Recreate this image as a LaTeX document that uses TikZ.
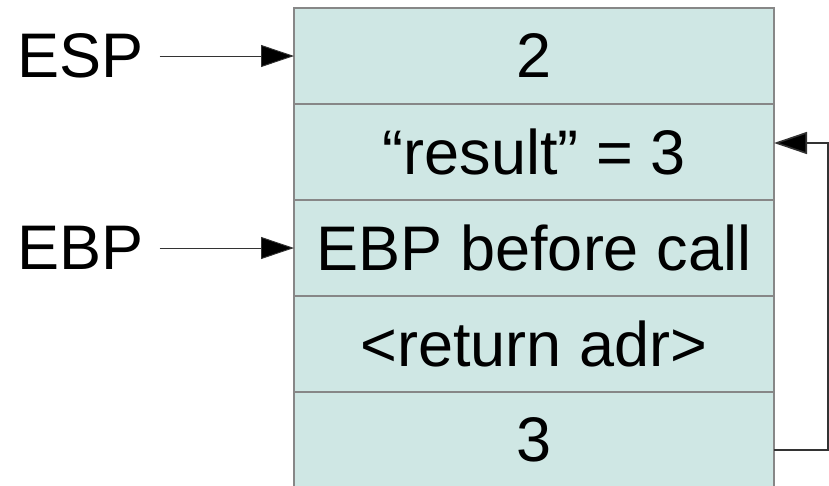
\documentclass[tikz,border=0pt]{standalone}
\usepackage{fontspec}
\setmainfont{Liberation Sans}
\usepackage{xcolor}
\usetikzlibrary{arrows.meta,positioning}

\definecolor{cellfill}{RGB}{207,231,228}
\definecolor{cellline}{RGB}{135,135,135}

\tikzset{
  cell/.style={draw=cellline, line width=1.2pt, fill=cellfill, minimum width=480pt,
               minimum height=96pt, inner sep=0pt, outer sep=0pt,
               font=\fontsize{63}{70}\selectfont},
  reglabel/.style={inner sep=0pt, font=\fontsize{63}{70}\selectfont},
  ptr/.style={draw=black!80, line width=0.9pt, shorten <=16pt,
              -{Triangle[length=33pt,width=22pt,fill=black]}},
  backptr/.style={draw=black!80, line width=1.6pt,
              -{Triangle[length=33pt,width=22pt,fill=black]}}
}

\begin{document}
\begin{tikzpicture}[x=1pt,y=-1pt]

          \useasboundingbox (0,0) rectangle (829,485);
          \clip (0,0) rectangle (829,485);

          % Define the stack cells, top to bottom
          \node[cell] (c1) at (534,56) {2};
          \node[cell, below=0pt of c1] (c2) {“result” = 3};
          \node[cell, below=0pt of c2] (c3) {EBP before call};
          \node[cell, below=0pt of c3] (c4) {<return adr>};
          \node[cell, below=0pt of c4] (c5) {3};

          % Label the registers
          \node[reglabel] (esp) at (80.5,56) {ESP};
          \node[reglabel] (ebp) at (80.5,248) {EBP};

          \draw[ptr] (esp.east |- c1.west) -- (c1.west);
          \draw[ptr] (ebp.east |- c3.west) -- (c3.west);

          % Value copied back into the local variable
          \draw[backptr] ([yshift=-10pt]c5.east) -- ++(54pt,0) |- ([yshift=9pt]c2.east);

\end{tikzpicture}
\end{document}
